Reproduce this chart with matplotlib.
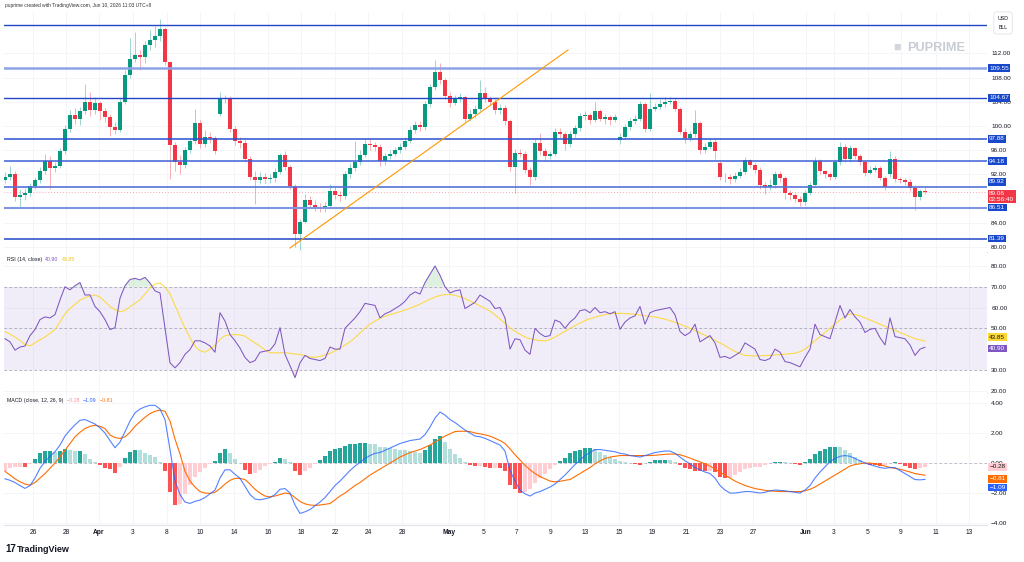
import numpy as np
import matplotlib
matplotlib.use('Agg')
import matplotlib.pyplot as plt

plt.rcParams['font.family'] = ['Liberation Sans', 'DejaVu Sans']

# ---- price bars (one bar per slot) ----
closes = [
    91.6, 92.0, 88.3, 88.6, 89.0, 90.0, 91.0, 92.5, 94.2, 93.0,
    93.4, 95.8, 99.5, 101.8, 101.2, 102.5, 104.0, 102.6, 103.8, 102.5,
    101.5, 99.8, 99.4, 104.0, 108.5, 111.0, 111.8, 111.4, 113.4, 114.2,
    114.8, 116.0, 110.5, 96.8, 94.0, 93.5, 96.0, 97.5, 100.5, 97.0,
    98.2, 98.0, 95.8, 104.5, 104.6, 99.5, 97.5, 97.2, 94.5, 91.5,
    91.0, 91.6, 91.2, 91.4, 92.4, 95.2, 93.2, 90.0, 82.2, 84.2,
    87.8, 87.0, 86.6, 86.4, 86.8, 89.2, 88.6, 88.4, 92.0, 93.0,
    94.0, 95.2, 97.0, 96.8, 96.6, 94.2, 95.0, 95.4, 96.0, 96.6,
    97.6, 99.4, 100.2, 99.8, 103.6, 106.4, 109.0, 107.6, 105.0, 103.8,
    104.5, 104.8, 101.2, 102.0, 102.8, 105.4, 104.6, 104.0, 102.6, 103.0,
    100.8, 93.2, 95.6, 95.4, 92.8, 91.5, 97.2, 95.8, 95.0, 95.3,
    99.0, 98.6, 97.0, 98.6, 99.6, 101.6, 101.8, 101.0, 102.4, 101.2,
    101.5, 101.0, 101.5, 98.2, 99.8, 100.8, 101.2, 103.6, 99.5, 102.8,
    103.2, 103.6, 104.0, 104.2, 102.8, 99.0, 98.0, 98.6, 100.5, 96.0,
    96.6, 97.4, 95.8, 91.5, 91.6, 91.2, 91.8, 92.4, 94.3, 93.6,
    92.8, 90.2, 89.9, 90.2, 92.0, 91.4, 89.0, 88.6, 88.0, 87.4,
    88.9, 90.3, 94.2, 92.5, 92.0, 91.6, 94.0, 96.6, 94.5, 96.3,
    95.0, 94.0, 92.3, 92.8, 93.0, 91.4, 89.9, 94.5, 91.2, 91.0,
    90.8, 89.8, 88.2, 89.2, 89.06,
]
first_open = 91.0
gap_opens = {43: 102.0, 123: 97.7, 143: 93.9, 177: 92.0}
highs = [
    92.4, 93.4, 92.6, 89.6, 89.8, 90.6, 91.6, 93.2, 95.4, 95.0,
    94.0, 96.4, 100.2, 102.6, 103.0, 103.2, 107.0, 105.6, 104.8, 104.2,
    103.0, 102.0, 100.6, 104.6, 109.2, 114.6, 115.5, 112.6, 114.0, 115.8,
    116.6, 117.7, 116.4, 110.8, 97.4, 95.2, 96.6, 98.0, 102.8, 101.0,
    99.4, 99.0, 98.4, 105.6, 105.2, 105.0, 100.0, 98.2, 97.8, 95.0,
    92.6, 92.4, 92.2, 92.0, 93.0, 95.6, 95.8, 93.6, 90.4, 84.6,
    88.8, 88.4, 87.8, 87.2, 87.4, 90.4, 90.0, 89.2, 92.6, 93.8,
    97.6, 96.0, 97.8, 97.8, 97.4, 97.0, 95.6, 96.0, 96.6, 97.2,
    98.2, 100.0, 100.8, 100.8, 104.2, 107.0, 110.9, 110.4, 108.0, 105.6,
    105.2, 105.4, 105.2, 102.8, 103.4, 107.6, 106.4, 105.0, 104.4, 103.6,
    103.4, 101.2, 96.2, 96.2, 95.8, 93.2, 97.8, 98.8, 96.4, 95.8,
    99.6, 99.6, 99.0, 99.2, 100.2, 102.2, 102.4, 102.2, 104.0, 102.8,
    102.0, 101.8, 102.0, 98.8, 100.4, 101.4, 101.8, 104.2, 104.0, 105.5,
    103.8, 104.4, 104.8, 104.8, 104.6, 103.2, 99.6, 99.2, 102.6, 100.8,
    97.2, 98.0, 97.8, 94.2, 92.2, 92.0, 92.4, 93.0, 94.8, 94.6,
    94.0, 93.2, 90.8, 91.2, 92.6, 92.6, 91.8, 89.4, 89.0, 88.4,
    89.4, 90.8, 94.8, 94.6, 92.8, 92.4, 94.6, 97.4, 97.0, 96.8,
    96.6, 95.4, 94.4, 93.4, 93.6, 93.4, 91.8, 95.8, 95.0, 91.6,
    91.4, 91.2, 90.2, 89.6, 89.9,
]
lows = [
    90.6, 91.0, 87.6, 86.6, 87.8, 88.4, 89.6, 90.6, 92.0, 89.6,
    92.4, 93.0, 95.4, 99.0, 100.4, 100.2, 102.0, 101.6, 102.0, 101.0,
    100.6, 98.4, 98.6, 99.0, 103.6, 108.0, 110.6, 109.3, 110.4, 112.6,
    113.0, 114.0, 110.0, 91.2, 92.6, 92.0, 93.0, 95.6, 97.0, 96.4,
    96.6, 97.2, 95.4, 101.6, 103.8, 99.0, 96.8, 96.4, 94.0, 91.0,
    87.1, 90.4, 90.6, 90.6, 90.8, 92.0, 92.8, 89.6, 80.0, 79.5,
    84.0, 86.4, 86.0, 85.8, 85.8, 86.4, 88.0, 87.6, 88.0, 91.4,
    92.6, 93.6, 94.8, 96.0, 95.8, 93.4, 93.6, 94.6, 95.0, 95.6,
    96.2, 97.2, 98.8, 99.2, 99.4, 103.2, 106.0, 107.0, 104.4, 103.2,
    103.4, 104.0, 100.6, 100.8, 101.4, 102.4, 104.0, 103.4, 102.0, 102.0,
    100.2, 92.6, 88.9, 94.8, 92.2, 90.2, 91.0, 95.2, 94.4, 94.6,
    95.0, 98.0, 96.0, 96.6, 98.2, 99.2, 101.0, 100.4, 100.6, 100.8,
    100.4, 100.2, 100.6, 97.0, 97.8, 99.4, 100.4, 100.8, 99.0, 99.2,
    102.4, 102.8, 103.2, 103.6, 102.4, 98.6, 97.2, 97.6, 98.2, 95.4,
    95.6, 96.2, 94.6, 91.0, 90.8, 90.4, 90.8, 91.4, 92.0, 93.0,
    92.2, 89.6, 88.8, 89.4, 89.8, 90.8, 88.0, 87.8, 87.4, 86.8,
    87.0, 88.6, 90.0, 92.0, 91.4, 91.0, 91.2, 93.6, 94.0, 94.0,
    94.6, 93.6, 91.8, 92.0, 92.4, 91.0, 89.4, 91.6, 90.8, 90.6,
    90.2, 89.2, 86.1, 87.8, 88.8,
]

# ---- RSI (14, close) and its MA ----
rsi = [
    45.0, 43.5, 39.5, 41.0, 41.5, 46.5, 49.4, 54.2, 55.5, 55.0,
    56.6, 63.7, 70.0, 68.5, 70.5, 72.0, 66.0, 66.1, 60.5, 58.0,
    54.2, 49.4, 50.3, 64.5, 70.5, 73.5, 74.0, 73.3, 74.5, 71.8,
    68.0, 67.0, 50.0, 33.4, 31.0, 33.5, 37.5, 39.8, 44.0, 44.0,
    43.0, 41.5, 38.5, 57.5, 53.5, 47.0, 44.0, 40.5, 36.0, 33.5,
    34.5, 38.5, 39.0, 39.5, 42.5, 50.3, 37.5, 32.0, 26.3, 33.4,
    37.0, 35.5, 35.0, 34.5, 35.5, 41.0, 40.0, 40.0, 50.0, 52.5,
    55.0, 58.0, 62.0, 61.5, 61.0, 55.0, 57.0, 58.0, 59.5, 61.0,
    63.0, 66.0, 67.5, 66.5, 72.0, 76.0, 80.0, 75.5, 70.0, 67.0,
    68.0, 68.5, 59.5, 61.0, 62.5, 66.0, 64.5, 63.0, 59.5, 60.0,
    55.0, 40.0, 45.0, 44.5, 39.5, 37.5, 50.0, 47.5, 46.0, 46.5,
    54.0, 53.0, 50.0, 53.0, 55.0, 58.5, 59.0, 57.5, 60.0, 57.5,
    58.0, 57.0, 58.0, 49.5, 53.0, 55.0, 56.0, 60.5, 52.0, 57.5,
    58.5, 59.0, 59.5, 60.0, 56.5, 48.5, 46.5, 48.0, 52.0, 43.5,
    45.0, 46.5, 43.0, 36.0, 36.5, 35.5, 37.0, 38.5, 43.0, 41.5,
    40.0, 35.0, 34.5, 35.5, 40.0, 38.5, 34.0, 33.5, 32.5, 31.5,
    36.0, 40.0, 52.0, 47.0, 46.0, 45.0, 53.0, 61.0, 55.0, 59.0,
    55.5, 53.0, 48.0, 49.5, 50.0, 45.5, 42.0, 55.0, 46.0, 45.5,
    45.0, 42.0, 37.0, 40.0, 40.9,
]
rsi_ma = [
    48.4, 47.2, 45.8, 44.2, 42.2, 41.6, 43.0, 44.5, 45.8, 47.6,
    49.5, 53.0, 57.0, 59.5, 61.5, 63.5, 64.8, 65.5, 66.0, 65.0,
    62.8, 60.5, 59.0, 58.0, 58.5, 60.5, 62.0, 63.7, 66.5, 69.5,
    71.2, 71.8, 69.8, 66.5, 61.0, 55.5, 50.0, 45.5, 41.4, 39.2,
    38.5, 40.0, 41.8, 44.8, 46.4, 46.9, 47.0, 46.8, 46.3, 44.5,
    43.0, 41.4, 39.6, 38.3, 38.2, 38.3, 38.3, 38.0, 37.6, 37.5,
    36.8, 36.2, 36.0, 36.5, 37.2, 38.0, 39.2, 40.5, 42.0, 43.5,
    45.5, 47.8, 50.0, 52.0, 53.5, 54.8, 55.8, 56.6, 57.3, 58.0,
    58.8, 59.7, 60.6, 61.6, 62.8, 64.0, 65.0, 65.8, 66.2, 66.3,
    65.8, 65.2, 64.3, 63.2, 62.0, 60.8, 59.6, 58.3, 56.5, 54.5,
    52.4, 50.2, 48.6, 47.2, 45.8, 45.0, 44.5, 44.1, 44.0, 44.6,
    45.8, 47.2, 48.6, 50.0, 51.3, 52.5, 53.7, 54.6, 55.4, 56.0,
    56.6, 57.0, 57.2, 57.2, 57.1, 57.0, 56.7, 56.4, 56.0, 55.7,
    55.4, 55.0, 54.4, 53.7, 52.9, 52.0, 51.0, 50.0, 49.0, 47.8,
    46.6, 45.4, 44.2, 43.0, 41.6, 40.2, 38.9, 37.8, 37.0, 36.8,
    36.7, 36.8, 36.9, 37.0, 37.2, 37.4, 37.6, 37.8, 38.0, 38.8,
    40.0, 42.0, 44.0, 46.0, 48.0, 50.0, 52.0, 54.0, 55.8, 57.0,
    56.6, 56.0, 55.0, 54.0, 53.0, 52.0, 51.0, 50.0, 49.0, 48.0,
    47.0, 46.0, 45.0, 44.4, 43.85,
]

# ---- MACD (close, 12, 26, 9) ----
macd = [
    -1.05, -1.15, -1.3, -1.5, -1.69, -1.5, -1.0, -0.35, 0.1, 0.45,
    0.75, 1.2, 1.8, 2.2, 2.55, 2.85, 2.9, 2.75, 2.6, 2.35,
    2.0, 1.5, 1.02, 1.4, 2.09, 2.8, 3.35, 3.6, 3.75, 3.85,
    3.85, 3.6, 2.9, 0.9, -1.2, -2.1, -2.6, -2.69, -2.55, -2.47,
    -2.3, -2.05, -1.8, -1.0, -0.45, -0.45, -0.75, -1.02, -1.55, -2.1,
    -2.4, -2.45, -2.38, -2.3, -2.1, -1.75, -1.7, -2.0, -2.8, -3.36,
    -3.25, -3.1, -2.85, -2.6, -2.3, -1.9, -1.5, -1.2, -0.85, -0.5,
    -0.2, 0.05, 0.3, 0.5, 0.65, 0.7, 0.85, 1.0, 1.15, 1.3,
    1.4, 1.5, 1.55, 1.6, 1.9, 2.4, 3.0, 3.4, 3.2, 2.9,
    2.7, 2.45, 2.2, 2.0, 1.8, 1.75, 1.65, 1.5, 1.35, 1.2,
    0.8, -0.5, -1.2, -1.8, -2.05, -2.2, -2.0, -1.9, -1.75, -1.6,
    -1.4, -1.1, -0.8, -0.45, -0.1, 0.2, 0.5, 0.7, 0.9, 0.9,
    0.85, 0.8, 0.75, 0.65, 0.6, 0.5, 0.45, 0.4, 0.5, 0.6,
    0.7, 0.75, 0.8, 0.8, 0.65, 0.4, 0.15, -0.05, -0.3, -0.45,
    -0.6, -0.7, -1.0, -1.5, -1.8, -2.0, -2.0, -1.95, -1.9, -1.9,
    -1.95, -2.0, -1.95, -1.85, -1.8, -1.82, -1.85, -1.9, -1.95, -2.0,
    -1.8, -1.5, -1.0, -0.6, -0.25, 0.1, 0.3, 0.45, 0.5, 0.45,
    0.3, 0.15, 0.0, -0.1, -0.2, -0.3, -0.35, -0.3, -0.3, -0.5,
    -0.7, -0.9, -1.1, -1.12, -1.09,
]
signal = [
    -0.55, -0.8, -1.05, -1.25, -1.4, -1.47, -1.3, -1.0, -0.7, -0.35,
    0.0, 0.42, 0.85, 1.3, 1.75, 2.05, 2.3, 2.45, 2.52, 2.45,
    2.3, 1.87, 1.7, 1.64, 1.75, 2.05, 2.45, 2.76, 3.05, 3.3,
    3.45, 3.53, 3.45, 2.8, 1.6, 0.6, -0.55, -1.2, -1.6, -1.9,
    -2.0, -2.02, -1.95, -1.7, -1.4, -1.15, -1.02, -1.02, -1.1, -1.4,
    -1.75, -2.0, -2.2, -2.25, -2.2, -2.1, -2.0, -2.05, -2.3, -2.56,
    -2.72, -2.8, -2.82, -2.8, -2.75, -2.7, -2.45, -2.2, -2.0, -1.75,
    -1.5, -1.3, -1.05, -0.8, -0.6, -0.4, -0.2, 0.0, 0.2, 0.4,
    0.55, 0.7, 0.8, 0.9, 1.05, 1.2, 1.4, 1.6, 1.8, 1.95,
    2.1, 2.12, 2.12, 2.1, 2.0, 1.95, 1.88, 1.8, 1.65, 1.5,
    1.3, 0.95, 0.55, 0.2, -0.15, -0.45, -0.7, -0.9, -1.05, -1.2,
    -1.25, -1.22, -1.15, -1.1, -0.9, -0.7, -0.5, -0.3, -0.05, 0.15,
    0.3, 0.4, 0.45, 0.5, 0.5, 0.5, 0.5, 0.5, 0.5, 0.5,
    0.52, 0.55, 0.58, 0.6, 0.6, 0.55, 0.45, 0.33, 0.2, 0.08,
    -0.05, -0.2, -0.4, -0.6, -0.8, -1.0, -1.2, -1.35, -1.5, -1.6,
    -1.7, -1.76, -1.82, -1.86, -1.88, -1.9, -1.9, -1.9, -1.9, -1.9,
    -1.85, -1.75, -1.6, -1.4, -1.2, -1.0, -0.8, -0.6, -0.4, -0.2,
    -0.1, -0.05, 0.0, 0.0, -0.05, -0.12, -0.2, -0.3, -0.35, -0.42,
    -0.5, -0.6, -0.7, -0.76, -0.81,
]

# ---- drawings / labels ----
levels = [116.7, 109.55, 104.67, 97.88, 94.18, 89.92, 86.51, 81.39]
level_colors = ['#2346c8', '#8ea2e6', '#2346c8', '#2a4fd0', '#3d60d6', '#5573da', '#7f95e2', '#2346c8']
level_widths = [1.0, 1.8, 1.0, 1.1, 1.1, 1.2, 1.5, 1.1]
level_tags = ['109.55', '104.67', '97.88', '94.18', '89.92', '86.51', '81.39']
level_tag_values = [109.55, 104.67, 97.88, 94.18, 89.92, 86.51, 81.39]
level_tag_dy = [0, 0, 0, 0, 3.6, 0, 0]
last_price = 89.06
countdown = '02:56:40'
trend_x = [57.0, 112.6]
trend_y = [79.83, 112.56]

# price-scale ticks that are not hidden behind a tag
price_ticks = [80, 84, 92, 96, 100, 104, 108, 112]
rsi_ticks = [20, 30, 50, 60, 70, 80]
macd_ticks = [-4, -2, 0, 2, 4]

tick_pos = [5.6, 12.2, 18.8, 25.6, 32.4, 39.0, 45.8, 52.6, 59.2, 66.0, 72.6, 79.4,
            88.8, 95.8, 102.4, 109.2, 116.0, 122.8, 129.4, 136.2, 143.0, 149.6,
            160.2, 165.8, 172.6, 179.2, 186.2, 192.8]
tick_labels = ['26', '28', 'Apr', '3', '8', '10', '14', '16', '18', '22', '24', '28',
               'May', '5', '7', '9', '13', '15', '19', '21', '23', '27',
               'Jun', '3', '5', '9', '11', '13']

UP, DOWN = '#089981', '#f23645'
GRID = '#f2f4f8'
TXT = '#131722'

W, H = 1024, 562
fig = plt.figure(figsize=(W / 100, H / 100), dpi=100)
fig.patch.set_facecolor('white')


def pane(top, bottom):
    left, right = 4, 987
    return fig.add_axes([left / W, 1 - bottom / H, (right - left) / W, (bottom - top) / H])


def legend_row(a, parts):
    # chain small legend texts one after the other, like the pane headers
    prev = a.text(0.003, 0.965, parts[0][0], transform=a.transAxes, fontsize=3.8,
                  color=parts[0][1], va='top', ha='left')
    for txt, col in parts[1:]:
        prev = a.annotate(txt, xy=(1, 0), xycoords=prev, xytext=(2.2, 0),
                          textcoords='offset points', fontsize=3.8, color=col,
                          va='bottom', ha='left')


def side_tag(a, val, txt, fc, tc='white', dy=0.0, **kw):
    a.annotate(txt, xy=(1, val), xycoords=a.get_yaxis_transform(), xytext=(1.6, dy),
               textcoords='offset points', ha='left', va='center', fontsize=4.6, color=tc,
               zorder=20, annotation_clip=False,
               bbox=dict(boxstyle='square,pad=0.2', fc=fc, ec='none'), **kw)


ax = pane(12, 252)
ax_r = pane(252, 393)
ax_m = pane(393, 525)

n = len(closes)
x = np.arange(n)
opens = [first_open] + closes[:-1]
for k, v in gap_opens.items():
    opens[k] = v
o = np.array(opens)
c = np.array(closes)
cols = np.where(c >= o, UP, DOWN)

for a in (ax, ax_r, ax_m):
    a.set_xlim(-0.2, 196.4)
    a.set_xticks(tick_pos)
    a.grid(True, color=GRID, lw=0.6)
    a.set_axisbelow(True)
    a.yaxis.tick_right()
    a.tick_params(axis='y', length=0, pad=3, labelsize=4.6, labelcolor=TXT)
    a.tick_params(axis='x', length=0)
    for s in ('top', 'left', 'right'):
        a.spines[s].set_visible(False)
    a.spines['bottom'].set_color('#e0e3eb')
    a.spines['bottom'].set_linewidth(0.8)
    if a is not ax_m:
        a.set_xticklabels([])

# price pane
ax.set_ylim(79.17, 118.84)
ax.set_yticks(price_ticks)
ax.set_yticklabels(['%.2f' % v for v in price_ticks])
ax.vlines(x, lows, highs, colors=cols, lw=0.7, alpha=0.4, zorder=3)
ax.bar(x, np.maximum(np.abs(c - o), 0.08), bottom=np.minimum(o, c), width=0.62,
       color=cols, zorder=4)
for lv, col, lw in zip(levels, level_colors, level_widths):
    ax.axhline(lv, color=col, lw=lw, zorder=5)
ax.axhline(last_price, color=DOWN, lw=0.7, ls=(0, (1, 2)), alpha=0.45, zorder=2)
ax.plot(trend_x, trend_y, color='#ff9800', lw=0.8, zorder=6)

for val, txt, dy in zip(level_tag_values, level_tags, level_tag_dy):
    side_tag(ax, val, txt, '#1848cc', dy=dy)
side_tag(ax, last_price, f'{last_price:.2f}\n{countdown}', DOWN, dy=-3.0, linespacing=1.15)

# RSI pane
ax_r.set_ylim(18.9, 86.7)
ax_r.set_yticks(rsi_ticks)
ax_r.set_yticklabels(['%.2f' % v for v in rsi_ticks])
ax_r.axhspan(30, 70, color='#7e57c2', alpha=0.1, lw=0)
for lv in (30, 50, 70):
    ax_r.axhline(lv, color='#9598a1', lw=0.6, ls=(0, (3, 3)), alpha=0.8)
r = np.array(rsi)
ax_r.fill_between(x, 70, r, where=r > 70, interpolate=True, color='#4caf50', alpha=0.18, lw=0)
ax_r.fill_between(x, 30, r, where=r < 30, interpolate=True, color='#f23645', alpha=0.18, lw=0)
ax_r.plot(x, rsi_ma, color='#fdd835', lw=0.8, alpha=0.9)
ax_r.plot(x, rsi, color='#7e57c2', lw=0.75)
side_tag(ax_r, rsi_ma[-1], '43.85', '#fdd835', tc=TXT, dy=2.9)
side_tag(ax_r, rsi[-1], '40.90', '#7e57c2', dy=-0.9)

# MACD pane
ax_m.set_ylim(-4.13, 4.67)
ax_m.set_yticks(macd_ticks)
ax_m.set_yticklabels([('%.2f' % v).replace('-', '\u2212') for v in macd_ticks])
hist = np.array(macd) - np.array(signal)
hcols = []
for i, h in enumerate(hist):
    prev = hist[i - 1] if i else h
    if h >= 0:
        hcols.append('#26a69a' if h >= prev else '#b2dfdb')
    else:
        hcols.append('#ff5252' if h < prev else '#ffcdd2')
ax_m.bar(x, hist, width=0.7, color=hcols, zorder=2)
ax_m.axhline(0, color='#b2b5be', lw=0.6, ls=(0, (3, 3)), zorder=1)
ax_m.plot(x, signal, color='#ff6d00', lw=0.8, zorder=3)
ax_m.plot(x, macd, color='#2962ff', lw=0.8, alpha=0.8, zorder=4)
side_tag(ax_m, hist[-1], '\u22120.28', '#ffcdd2', tc=TXT, dy=0.3)
side_tag(ax_m, signal[-1], '\u22120.81', '#ff6d00', dy=-2.6)
side_tag(ax_m, macd[-1], '\u22121.09', '#2962ff', dy=-5.8)

ax_m.set_xticklabels(tick_labels)
ax_m.tick_params(axis='x', labelsize=4.8, labelcolor=TXT, pad=3)
for lab in ax_m.get_xticklabels():
    if lab.get_text() in ('Apr', 'May', 'Jun'):
        lab.set_fontweight('bold')

# pane legends
legend_row(ax_r, [('RSI (14, close)', TXT), ('40.90', '#7e57c2'), ('43.85', '#f0c419')])
legend_row(ax_m, [('MACD (close, 12, 26, 9)', TXT), ('\u22120.28', '#ff8a9a'),
                  ('\u22121.09', '#2962ff'), ('\u22120.81', '#ff6d00')])

# header, watermark, footer
fig.text(5 / W, 1 - 5 / H, 'puprime created with TradingView.com, Jun 10, 2026 11:03 UTC+8',
         fontsize=3.5, color='#333333', va='center', ha='left')
fig.text(893 / W, 1 - 48 / H, '\u25a0', fontsize=9, color='#d3d6dc', va='center', ha='left')
fig.text(907 / W, 1 - 48 / H, 'PUPRIME', fontsize=9.2, color='#c8ccd3', fontweight='bold',
         va='center', ha='left')
fig.text(1003 / W, 1 - 23 / H, 'USD\nBLL', fontsize=3.8, color=TXT, va='center', ha='center',
         linespacing=2.2,
         bbox=dict(boxstyle='round,pad=0.7,rounding_size=0.6', fc='white', ec='#e0e3eb', lw=0.6))
fig.text(5 / W, 1 - 549 / H, '17', fontsize=7, color=TXT, fontweight='heavy', va='center',
         ha='left')
fig.text(17 / W, 1 - 549 / H, 'TradingView', fontsize=6.5, color=TXT, fontweight='bold',
         va='center', ha='left')

fig.savefig('out.png', dpi=100, facecolor='white')
